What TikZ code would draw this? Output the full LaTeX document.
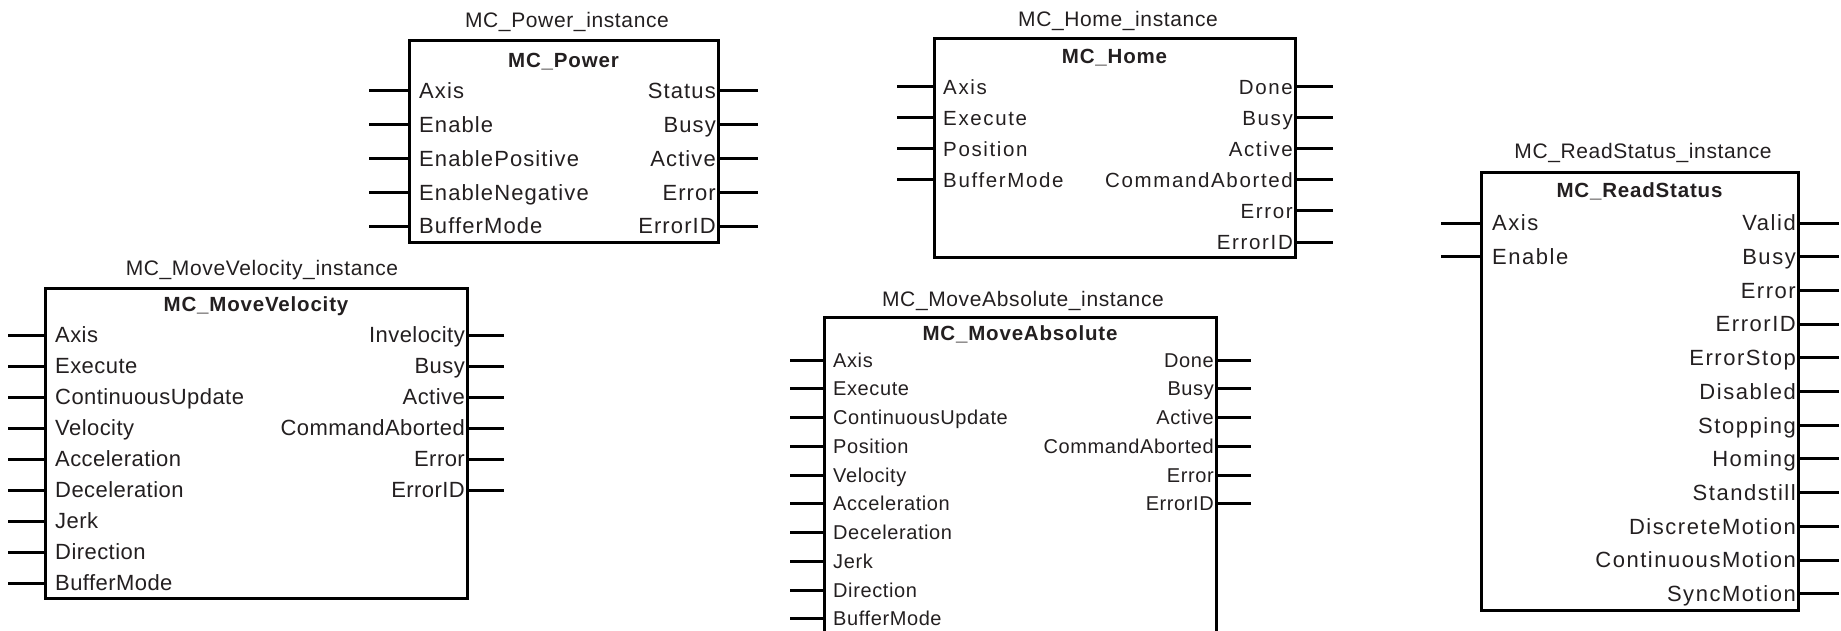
\documentclass[tikz,border=0pt]{standalone}
\usepackage{fontspec}
\setmainfont{Liberation Sans}
\usetikzlibrary{positioning, calc}

\definecolor{fbtext}{HTML}{231F20}

\tikzset{
    fblock/.style={draw, line width=3pt, inner sep=0pt, outer sep=0pt},
    pinfont/.style 2 args={font={\fontsize{#1}{#1}\selectfont\addfontfeature{LetterSpace=#2}},
        text height=0.716*#1, text depth=0pt},
    pinlbl/.style={inner sep=0pt, text=fbtext},
    pinline/.style={line width=3pt},
    fbtitle/.style={inner sep=0pt, text=fbtext, font={\fontsize{20.5}{22}\selectfont\bfseries\addfontfeature{LetterSpace=4}},
        text height=14.7, text depth=0pt},
    fbinst/.style={inner sep=0pt, text=fbtext, font={\fontsize{21}{23}\selectfont\addfontfeature{LetterSpace=3}},
        text height=15, text depth=0pt},
}

\begin{document}
\begin{tikzpicture}[x=1pt, y=-1pt]
    \useasboundingbox (0,0) rectangle (1841,631);

    % MC_Power
    \node[fblock, minimum width=309pt, minimum height=201pt] (power) at (563.5,141.5) {};
    \node[fbinst] (power-inst) at (567,20) {MC\_Power\_instance};
    \node[fbtitle] (power-title) at (563.5,60) {MC\_Power};
    \foreach \lbl [count=\i] in {Axis, Enable, EnablePositive, EnableNegative, BufferMode} {
        \node[pinlbl, pinfont={22}{5}, anchor=west] (power-in-\i) at (419, {91+33.75*(\i-1)}) {\lbl};
        \draw[pinline] (power-in-\i.west -| power.west) -- ++(-40,0) coordinate (power-a-\i);
    }
    \foreach \lbl [count=\i] in {Status, Busy, Active, Error, ErrorID} {
        \node[pinlbl, pinfont={22}{5}, anchor=east] (power-out-\i) at (716, {91+33.75*(\i-1)}) {\lbl};
        \draw[pinline] (power-out-\i.east -| power.east) -- ++(40,0) coordinate (power-b-\i);
    }

    % MC_Home
    \node[fblock, minimum width=361pt, minimum height=218pt] (home) at (1114.5,148) {};
    \node[fbinst] (home-inst) at (1118,19) {MC\_Home\_instance};
    \node[fbtitle] (home-title) at (1114.5,56) {MC\_Home};
    \foreach \lbl [count=\i] in {Axis, Execute, Position, BufferMode} {
        \node[pinlbl, pinfont={20.5}{8}, anchor=west] (home-in-\i) at (943, {87+31*(\i-1)}) {\lbl};
        \draw[pinline] (home-in-\i.west -| home.west) -- ++(-37,0) coordinate (home-a-\i);
    }
    \foreach \lbl [count=\i] in {Done, Busy, Active, CommandAborted, Error, ErrorID} {
        \node[pinlbl, pinfont={20.5}{8}, anchor=east] (home-out-\i) at (1293, {87+31*(\i-1)}) {\lbl};
        \draw[pinline] (home-out-\i.east -| home.east) -- ++(38,0) coordinate (home-b-\i);
    }

    % MC_MoveVelocity
    \node[fblock, minimum width=422pt, minimum height=310pt] (movevel) at (256,443) {};
    \node[fbinst] (movevel-inst) at (262,267.5) {MC\_MoveVelocity\_instance};
    \node[fbtitle] (movevel-title) at (256,304) {MC\_MoveVelocity};
    \foreach \lbl [count=\i] in {Axis, Execute, ContinuousUpdate, Velocity, Acceleration,
            Deceleration, Jerk, Direction, BufferMode} {
        \node[pinlbl, pinfont={22}{2}, anchor=west] (movevel-in-\i) at (55, {335+31*(\i-1)}) {\lbl};
        \draw[pinline] (movevel-in-\i.west -| movevel.west) -- ++(-37,0) coordinate (movevel-a-\i);
    }
    \foreach \lbl [count=\i] in {Invelocity, Busy, Active, CommandAborted, Error, ErrorID} {
        \node[pinlbl, pinfont={22}{2}, anchor=east] (movevel-out-\i) at (465, {335+31*(\i-1)}) {\lbl};
        \draw[pinline] (movevel-out-\i.east -| movevel.east) -- ++(37,0) coordinate (movevel-b-\i);
    }

    % MC_MoveAbsolute (runs off the bottom edge)
    \node[fblock, minimum width=392pt, minimum height=333pt] (moveabs) at (1020,483.5) {};
    \node[fbinst] (moveabs-inst) at (1023,298.5) {MC\_MoveAbsolute\_instance};
    \node[fbtitle] (moveabs-title) at (1020,333) {MC\_MoveAbsolute};
    \foreach \lbl [count=\i] in {Axis, Execute, ContinuousUpdate, Position, Velocity,
            Acceleration, Deceleration, Jerk, Direction, BufferMode} {
        \node[pinlbl, pinfont={20}{3}, anchor=west] (moveabs-in-\i) at (833, {360+28.75*(\i-1)}) {\lbl};
        \draw[pinline] (moveabs-in-\i.west -| moveabs.west) -- ++(-34,0) coordinate (moveabs-a-\i);
    }
    \foreach \lbl [count=\i] in {Done, Busy, Active, CommandAborted, Error, ErrorID} {
        \node[pinlbl, pinfont={20}{3}, anchor=east] (moveabs-out-\i) at (1214, {360+28.75*(\i-1)}) {\lbl};
        \draw[pinline] (moveabs-out-\i.east -| moveabs.east) -- ++(35,0) coordinate (moveabs-b-\i);
    }

    % MC_ReadStatus
    \node[fblock, minimum width=317pt, minimum height=437pt] (readst) at (1639.5,391.5) {};
    \node[fbinst] (readst-inst) at (1643,151) {MC\_ReadStatus\_instance};
    \node[fbtitle] (readst-title) at (1639.5,190) {MC\_ReadStatus};
    \foreach \lbl [count=\i] in {Axis, Enable} {
        \node[pinlbl, pinfont={22}{7}, anchor=west] (readst-in-\i) at (1492, {223+33.7*(\i-1)}) {\lbl};
        \draw[pinline] (readst-in-\i.west -| readst.west) -- ++(-40,0) coordinate (readst-a-\i);
    }
    \foreach \lbl [count=\i] in {Valid, Busy, Error, ErrorID, ErrorStop, Disabled, Stopping,
            Homing, Standstill, DiscreteMotion, ContinuousMotion, SyncMotion} {
        \node[pinlbl, pinfont={22}{7}, anchor=east] (readst-out-\i) at (1796, {223+33.7*(\i-1)}) {\lbl};
        \draw[pinline] (readst-out-\i.east -| readst.east) -- ++(41,0) coordinate (readst-b-\i);
    }
\end{tikzpicture}
\end{document}
